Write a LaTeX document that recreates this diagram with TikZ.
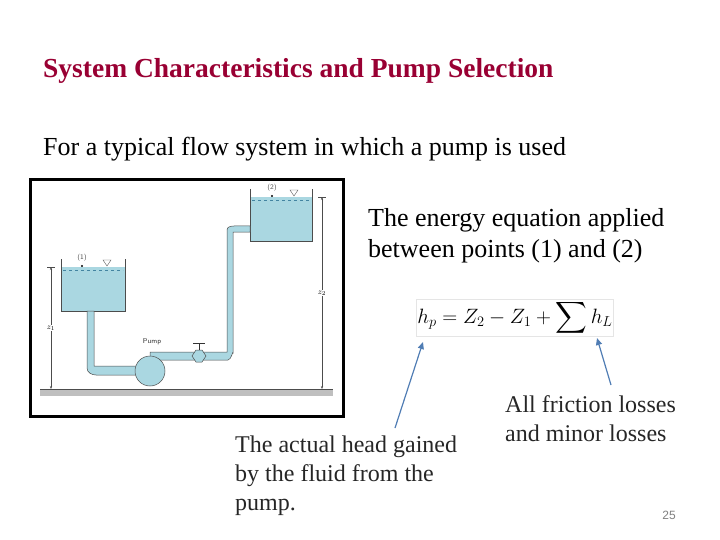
\documentclass[tikz,border=0pt]{standalone}
\usepackage{fontspec}
\setmainfont{Liberation Serif}
\newfontfamily\numfont{Liberation Sans}
\usetikzlibrary{arrows.meta}
\definecolor{titlered}{RGB}{153,0,51}
\definecolor{water}{RGB}{170,215,225}
\definecolor{arrowblue}{RGB}{80,125,180}
\tikzset{txt/.style = {anchor = north west, align = left, inner sep = 0pt},
	pipe/.style = {draw = black!70, fill = water, line width = 0.5pt},
	dim/.style = {draw = black!70, line width = 0.4pt},
	callout/.style = {draw = arrowblue, line width = 1.2pt, -{Triangle[length = 7pt, width = 6pt]}}}
\newcommand{\bigsum}{\mathop{\vcenter{\hbox{\scalebox{2.2}{$\displaystyle\sum$}}}}}
\begin{document}
\begin{tikzpicture}[x = 1pt, y = -1pt]
	\useasboundingbox (0,0) rectangle (720,540);
	\node (title)[txt, font = \fontsize{27.5}{30}\selectfont\bfseries, text = titlered] at (43,58){System Characteristics and Pump Selection};
	\node (intro)[txt, font = \fontsize{26}{30}\selectfont] at (43,137){For a typical flow system in which a pump is used};
	\node (energy)[txt, font = \fontsize{26}{31}\selectfont] at (368,208){The energy equation applied\\between points (1) and (2)};
	\node (eq)[draw = black!10, inner sep = 1pt, font = \fontsize{22}{26}\selectfont] at (515,318){$h_p = Z_2 - Z_1 + \bigsum h_L$};
	\node (actual)[txt, font = \fontsize{24}{29}\selectfont, text = black!85] at (235,436){The actual head gained\\by the fluid from the\\pump.};
	\node (losses)[txt, font = \fontsize{24}{29}\selectfont, text = black!85] at (505,395){All friction losses\\and minor losses};
	\node (page)[font = \numfont\fontsize{12}{13}\selectfont, text = black!50] at (669,515){25};
	% system sketch
	\draw [line width = 3pt] (30,180) rectangle (343,416);
	\fill [black!25] (40,389) rectangle (333,396);
	\draw [black!70, line width = 1pt] (40,389) -- (333,389);
	% tanks
	\fill [water] (61,267) rectangle (125,311);
	\draw [black!70] (61,259) -- (61,311) -- (125,311) -- (125,259);
	\fill [water] (250,197) rectangle (312,241);
	\draw [black!70] (250,189) -- (250,241) -- (312,241) -- (312,189);
	\draw [cyan!60!black, dashed, line width = 0.3pt] (63,270) -- (123,270) (252,200) -- (310,200);
	% pipes
	\draw [pipe] (87,311) -- (87,368) to[out = -90, in = 180] (96,375) -- (140,375) -- (140,366) -- (94,366) -- (94,311) -- cycle;
	\draw [pipe] (150,352) -- (227,352) -- (227,230) to[out = 90, in = 180] (234,226) -- (250,226) -- (250,232) -- (233,232) -- (233,353) to[out = 90, in = 0] (228,360) -- (150,360) -- cycle;
	\draw [pipe] (150,371) circle (15);
	\draw [pipe] (192,356) -- (196,350) -- (202,350) -- (206,356) -- (202,362) -- (196,362) -- cycle;
	\draw [black!80, line width = 1pt] (199,350) -- (199,343) (193,343) -- (205,343);
	\node (pumplabel)[font = \sffamily\fontsize{7}{8}\selectfont, text = black!80] at (152,342){Pump};
	% points
	\fill (82,266) circle (1.2);
	\fill (272,196) circle (1.2);
	\node (p1)[font = \sffamily\fontsize{7}{8}\selectfont, text = black!70] at (82,258){(1)};
	\node (p2)[font = \sffamily\fontsize{7}{8}\selectfont, text = black!70] at (272,188){(2)};
	\draw [black!70] (103,260) -- (111,260) -- (107,266) -- cycle;
	\draw [black!70] (290,190) -- (298,190) -- (294,196) -- cycle;
	% dimensions
	\draw [dim, {Stealth[length = 3pt]}-{Stealth[length = 3pt]}] (51,267) -- node[fill = white, inner sep = 1pt, font = \fontsize{8}{9}\selectfont]{$z_1$} (51,389);
	\draw [dim] (47,267) -- (55,267) (318,197) -- (326,197);
	\draw [dim, {Stealth[length = 3pt]}-{Stealth[length = 3pt]}] (322,197) -- node[fill = white, inner sep = 1pt, font = \fontsize{8}{9}\selectfont]{$z_2$} (322,389);
	% callouts
	\coordinate (hp) at (423,342);
	\coordinate (hl) at (597,338);
	\draw [callout] (actual.north -| 395,0) ++(0,-8) -- (hp);
	\draw [callout] (losses.north -| 611,0) ++(0,-10) -- (hl);
\end{tikzpicture}
\end{document}
